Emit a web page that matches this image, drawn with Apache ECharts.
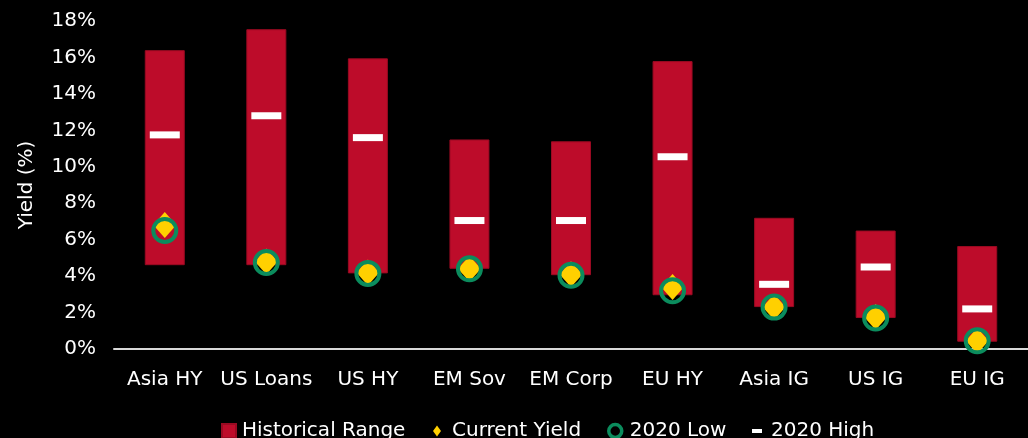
<!DOCTYPE html>
<html><head><meta charset="utf-8">
<script src="https://cdn.jsdelivr.net/npm/echarts@6/dist/echarts.min.js"></script>
<style>html,body{margin:0;padding:0;background:#000}#c{width:1028px;height:438px}</style>
</head><body><div id="c"></div>
<script>
const categories = ['Asia HY','US Loans','US HY','EM Sov','EM Corp','EU HY','Asia IG','US IG','EU IG'];
const histLow  = [4.6, 4.6, 4.15, 4.4, 4.05, 2.95, 2.3, 1.7, 0.4];
const histHigh = [16.4, 17.55, 15.95, 11.5, 11.4, 15.8, 7.2, 6.5, 5.65];
const currentYield = [6.8, 4.8, 4.2, 4.4, 4.1, 3.4, 2.3, 1.75, 0.45];
const low2020  = [6.5, 4.75, 4.15, 4.4, 4.05, 3.2, 2.3, 1.7, 0.45];
const high2020 = [11.75, 12.8, 11.6, 7.05, 7.05, 10.55, 3.55, 4.5, 2.2];
const yTicks = [0, 18, 2];

const RED = '#BD0C2A', GOLD = '#FFD000', GREEN = '#0B8C5D';
const FONT = 'DejaVu Sans, sans-serif';
const chart = echarts.init(document.getElementById('c'));
function leg(left, w, h, gap, item) {
  return {top: 421, left: left, padding: 0, itemWidth: w, itemHeight: h, selectedMode: false,
    textStyle: {color: '#fff', fontSize: 20, fontFamily: FONT, padding: [2, 0, 0, gap - 5]},
    data: [item]};
}
chart.setOption({
  backgroundColor: '#000',
  animation: false,
  grid: {left: 114, top: 21, width: 923, bottom: 89, containLabel: false},
  legend: [
    leg(221, 14, 14, 6, {name: 'Historical Range', icon: 'rect'}),
    leg(433, 8, 11, 11, {name: 'Current Yield', icon: 'diamond'}),
    leg(607, 13, 13, 8, {name: '2020 Low', icon: 'circle', itemStyle: {color: 'transparent', borderColor: GREEN, borderWidth: 3.5}}),
    leg(752, 10, 4, 9, {name: '2020 High', icon: 'rect'})
  ],
  xAxis: {
    type: 'category', data: categories,
    axisLine: {lineStyle: {color: '#d9d9d9', width: 2}},
    axisTick: {show: false},
    axisLabel: {color: '#fff', fontSize: 20, fontFamily: FONT, margin: 21, interval: 0}
  },
  yAxis: {
    type: 'value', min: yTicks[0], max: yTicks[1], interval: yTicks[2],
    name: 'Yield (%)', nameLocation: 'middle', nameGap: 77,
    nameTextStyle: {color: '#fff', fontSize: 20, fontFamily: FONT},
    axisLine: {show: false}, axisTick: {show: false}, splitLine: {show: false},
    axisLabel: {color: '#fff', fontSize: 20, fontFamily: FONT, margin: 18, formatter: '{value}%'}
  },
  series: [
    {name: 'base', type: 'bar', stack: 'r', data: histLow, barWidth: 40, itemStyle: {color: 'transparent'}, silent: true},
    {name: 'Historical Range', type: 'bar', stack: 'r', barWidth: 40,
     data: histHigh.map((h, i) => +(h - histLow[i]).toFixed(3)),
     itemStyle: {color: RED, borderColor: '#9a0a22', borderWidth: 1}},
    {name: '2020 High', type: 'scatter', data: high2020, symbol: 'rect', symbolSize: [30, 7], itemStyle: {color: '#fff', opacity: 1}, z: 3},
    {name: 'Current Yield', type: 'scatter', data: currentYield, symbol: 'diamond', symbolSize: [23, 26], itemStyle: {color: GOLD, opacity: 1}, z: 4},
    {name: '2020 Low', type: 'scatter', data: low2020, symbol: 'circle', symbolSize: 23,
     itemStyle: {color: 'transparent', borderColor: GREEN, borderWidth: 4, opacity: 1}, z: 5}
  ]
});
</script></body></html>
